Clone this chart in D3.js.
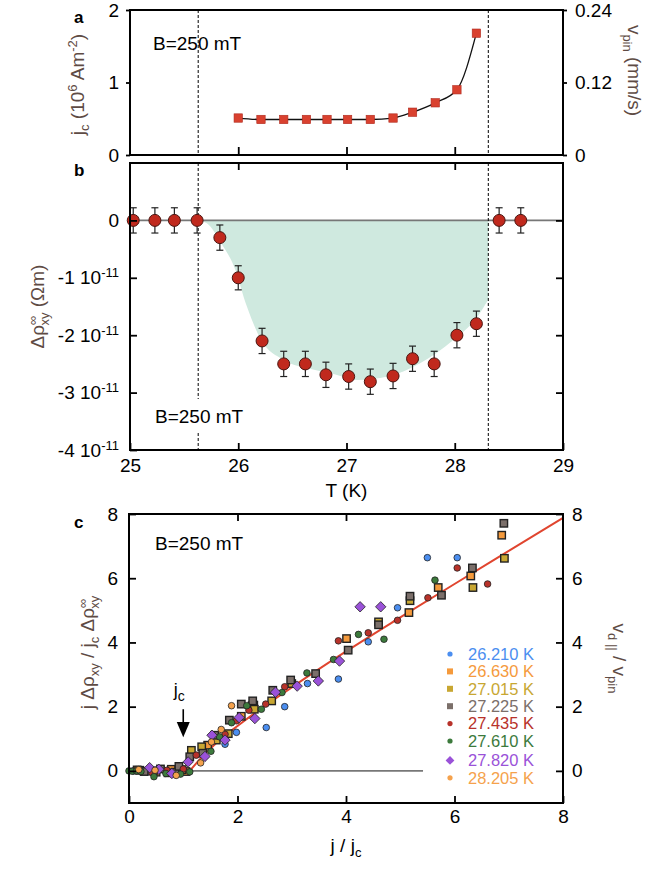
<!DOCTYPE html>
<html>
<head>
<meta charset="utf-8">
<script src="https://cdn.jsdelivr.net/npm/d3@7"></script>
<style>
  body { margin: 0; background: #fff; }
  svg { display: block; }
  text { font-family: "Liberation Sans", Arial, Helvetica, sans-serif; }
</style>
</head>
<body>
<svg width="650" height="869"></svg>
<script>
// panel a: critical current vs T
const tA = [26.0, 26.21, 26.42, 26.63, 26.82, 27.01, 27.22, 27.43, 27.61, 27.82, 28.02, 28.2];
const jcA = [0.51, 0.49, 0.49, 0.49, 0.49, 0.49, 0.49, 0.51, 0.59, 0.72, 0.90, 1.68];

// panel b: delta rho_xy (units of 1e-11 Ohm m)
const tB = [25.03, 25.23, 25.41, 25.62, 25.83, 26.0, 26.22, 26.42, 26.62, 26.81, 27.02, 27.22, 27.43, 27.61, 27.81, 28.02, 28.2, 28.41, 28.61];
const rhoB = [0, 0, 0, 0, -0.30, -1.0, -2.1, -2.5, -2.5, -2.69, -2.72, -2.81, -2.71, -2.41, -2.5, -2.0, -1.80, 0, 0];
const errB = [0.22, 0.22, 0.22, 0.22, 0.22, 0.21, 0.22, 0.22, 0.22, 0.22, 0.22, 0.22, 0.22, 0.22, 0.22, 0.22, 0.22, 0.22, 0.22];
const shadeT = [25.63, 25.71, 25.84, 25.96, 26.08, 26.21, 26.42, 26.65, 26.85, 27.10, 27.38, 27.68, 27.99, 28.21, 28.31];
const shadeV = [0, -0.05, -0.39, -0.80, -1.5, -2.08, -2.43, -2.58, -2.66, -2.78, -2.72, -2.49, -2.08, -1.68, -1.38];
const dashT = [25.63, 28.31];

// panel c: scaled Hall signal vs j/jc
const p26210 = [[0.08,0.0],[0.35,-0.03],[0.62,0.04],[0.9,-0.05],[1.77,0.83],[1.77,1.01],[1.98,1.20],[2.53,1.35],[2.87,2.0],[3.29,2.72],[3.86,2.86],[4.41,4.02],[4.95,5.08],[5.50,6.64],[6.05,6.64]];
const p26630 = [[0.2,0.02],[0.5,-0.04],[0.78,0.05],[1.05,-0.02],[1.45,0.80],[2.07,1.70],[2.30,2.05],[4.01,4.12],[5.16,4.93],[5.70,5.71],[6.30,6.07],[6.87,7.34]];
const p27015 = [[0.15,0.03],[0.45,0.0],[0.72,-0.06],[0.98,0.04],[1.15,0.64],[1.34,0.75],[1.61,0.96],[1.83,1.16],[2.27,2.03],[2.31,1.92],[2.63,2.18],[3.0,2.72],[4.60,4.64],[5.18,5.30],[6.34,5.71],[6.92,6.62]];
const p27225 = [[0.28,-0.02],[0.58,0.06],[0.85,-0.04],[0.92,0.14],[1.12,0.44],[1.36,0.55],[1.58,1.11],[1.85,1.58],[2.07,2.08],[2.28,2.18],[2.65,2.51],[2.98,2.83],[3.44,3.03],[4.04,3.76],[4.60,4.55],[5.18,5.44],[5.76,5.47],[6.33,6.32],[6.91,7.71]];
const p27435 = [[0.12,0.01],[0.42,-0.05],[0.7,0.02],[1.0,0.06],[1.24,0.49],[1.77,1.14],[1.98,1.56],[2.21,1.89],[2.52,2.08],[2.87,2.62],[3.86,4.05],[4.41,4.30],[4.95,4.69],[5.51,5.39],[6.05,6.32],[6.61,5.82]];
const p27610 = [[0.0,0.0],[0.06,-0.01],[0.14,0.0],[0.22,-0.02],[0.46,-0.18],[0.68,-0.08],[0.95,-0.1],[1.12,-0.03],[1.51,0.61],[1.67,1.06],[1.89,1.50],[2.17,2.03],[2.44,1.92],[2.82,2.44],[3.28,3.05],[3.77,3.47],[4.23,4.25],[4.70,4.10],[5.64,5.94]];
const p27820 = [[0.38,0.1],[0.55,0.05],[0.79,-0.08],[1.09,0.28],[1.40,0.45],[1.53,1.11],[1.77,0.96],[2.03,1.66],[2.32,1.63],[2.70,2.45],[3.10,2.64],[3.49,2.80],[3.88,3.42],[4.26,5.11],[4.64,5.11]];
const p28205 = [[0.18,0.04],[0.48,0.02],[0.87,-0.14],[1.32,0.25],[1.52,0.90],[1.70,1.29],[1.89,2.03]];
const fitX = [1.12, 1.3, 1.6, 2, 3, 4, 5, 6, 7, 8];
const fitY = [0, 0.35, 0.85, 1.4, 2.6, 3.72, 4.78, 5.82, 6.85, 7.88];

const seriesLabels = ["26.210 K", "26.630 K", "27.015 K", "27.225 K", "27.435 K", "27.610 K", "27.820 K", "28.205 K"];
const seriesColors = ["#4b8ef0", "#f59a3c", "#c8a732", "#7b6f6a", "#b8322a", "#3c7a3c", "#9a52d8", "#f5a24c"];
const seriesShapes = ["circle", "square", "square", "square", "circle", "circle", "diamond", "circle"];
const seriesPoints = [p26210, p26630, p27015, p27225, p27435, p27610, p27820, p28205];

const labelColor = "#5e4b44";
const svg = d3.select("svg");

const xT = d3.scaleLinear().domain([25, 29]).range([130, 563]);
const yA = d3.scaleLinear().domain([0, 2]).range([155, 10]);
const yAr = d3.scaleLinear().domain([0, 0.24]).range([155, 10]);
const yB = d3.scaleLinear().domain([-4, 1]).range([450, 163]);
const xC = d3.scaleLinear().domain([0, 8]).range([129, 563]);
const yC = d3.scaleLinear().domain([-1, 8]).range([803, 514]);

function rich(t, parts, big, small) {
  let off = 0;
  parts.forEach(p => {
    const target = p.sup ? -7 : p.sub ? 5 : 0;
    const ts = t.append("tspan").text(p.t)
      .attr("dy", target - off)
      .style("font-size", (p.sup || p.sub) ? small + "px" : big + "px");
    if (p.dx) ts.attr("dx", p.dx);
    off = target;
  });
}

function styleAxis(g) {
  g.select(".domain").remove();
  g.selectAll(".tick line").attr("stroke", "#000").attr("stroke-width", 1.8);
  g.selectAll(".tick text").style("font-size", "19px").attr("fill", "#000");
}

function frame(x0, y0, x1, y1) {
  svg.append("rect").attr("x", x0).attr("y", y0).attr("width", x1 - x0).attr("height", y1 - y0)
    .attr("fill", "none").attr("stroke", "#000").attr("stroke-width", 2);
}

function panelLabel(txt, x, y) {
  svg.append("text").attr("x", x).attr("y", y).text(txt)
    .style("font-size", "17px").style("font-weight", "bold");
}

// ---------- panel a ----------
dashT.forEach(t => {
  svg.append("line").attr("x1", xT(t)).attr("x2", xT(t)).attr("y1", yA(2)).attr("y2", yA(0))
    .attr("stroke", "#000").attr("stroke-width", 1).attr("stroke-dasharray", "3,2");
});

svg.append("path")
  .attr("d", d3.line().x((d, i) => xT(tA[i])).y(d => yA(d)).curve(d3.curveMonotoneX)(jcA))
  .attr("fill", "none").attr("stroke", "#111").attr("stroke-width", 1.3);

svg.selectAll(".sqA").data(jcA).join("rect")
  .attr("x", (d, i) => xT(tA[i]) - 4.2).attr("y", d => yA(d) - 4.2)
  .attr("width", 8.4).attr("height", 8.4)
  .attr("fill", "#d9412f").attr("stroke", "#b02a1e").attr("stroke-width", 0.6);

svg.append("g").attr("transform", `translate(0,${yA(0)})`)
  .call(d3.axisBottom(xT).tickValues([26, 27, 28]).tickSize(-8).tickFormat(""))
  .call(styleAxis);
svg.append("g").attr("transform", `translate(${xT(25)},0)`)
  .call(d3.axisLeft(yA).tickValues([0, 1, 2]).tickSize(4).tickPadding(7).tickFormat(d3.format("d")))
  .call(styleAxis);
svg.append("g").attr("transform", `translate(${xT(29)},0)`)
  .call(d3.axisRight(yAr).tickValues([0, 0.12, 0.24]).tickSize(4).tickPadding(8)
    .tickFormat(d => d === 0 ? "0" : d3.format(".2f")(d)))
  .call(styleAxis);
frame(xT(25), yA(2), xT(29), yA(0));

svg.append("text").attr("x", 153).attr("y", 50).text("B=250 mT").style("font-size", "19px");
panelLabel("a", 74, 23);

const labA = svg.append("text").attr("transform", `translate(84,${(yA(0) + yA(2)) / 2 + 2}) rotate(-90)`)
  .attr("text-anchor", "middle").attr("fill", labelColor);
rich(labA, [{t: "j"}, {t: "c", sub: true}, {t: " (10"}, {t: "6", sup: true}, {t: " Am"}, {t: "-2", sup: true}, {t: ")"}], 19, 13);

const labAr = svg.append("text").attr("transform", `translate(628,${(yA(0) + yA(2)) / 2 - 12}) rotate(90)`)
  .attr("text-anchor", "middle").attr("fill", labelColor);
rich(labAr, [{t: "v"}, {t: "pin", sub: true}, {t: " (mm/s)"}], 19, 13);

// ---------- panel b ----------
const shade = d3.area()
  .x((d, i) => xT(shadeT[i]))
  .y0(yB(0))
  .y1(d => yB(d))
  .curve(d3.curveMonotoneX);
svg.append("path").attr("d", shade(shadeV)).attr("fill", "#cfe9df");

svg.append("line").attr("x1", xT(25)).attr("x2", xT(29)).attr("y1", yB(0)).attr("y2", yB(0))
  .attr("stroke", "#777").attr("stroke-width", 1.6);

dashT.forEach(t => {
  svg.append("line").attr("x1", xT(t)).attr("x2", xT(t)).attr("y1", yB(1)).attr("y2", yB(-4))
    .attr("stroke", "#000").attr("stroke-width", 1).attr("stroke-dasharray", "3,2");
});

// white patch behind the field label in panel b
svg.append("rect").attr("x", 150).attr("y", 399).attr("width", 102).attr("height", 34).attr("fill", "#fff");
svg.append("text").attr("x", 155).attr("y", 423).text("B=250 mT").style("font-size", "19px");

const eb = svg.append("g").attr("stroke", "#222").attr("stroke-width", 1.2);
rhoB.forEach((v, i) => {
  const x = xT(tB[i]);
  eb.append("line").attr("x1", x).attr("x2", x).attr("y1", yB(v + errB[i])).attr("y2", yB(v - errB[i]));
  eb.append("line").attr("x1", x - 3.5).attr("x2", x + 3.5).attr("y1", yB(v + errB[i])).attr("y2", yB(v + errB[i]));
  eb.append("line").attr("x1", x - 3.5).attr("x2", x + 3.5).attr("y1", yB(v - errB[i])).attr("y2", yB(v - errB[i]));
});
svg.selectAll(".dotB").data(rhoB).join("circle")
  .attr("cx", (d, i) => xT(tB[i])).attr("cy", d => yB(d)).attr("r", 6)
  .attr("fill", "#c0291d").attr("stroke", "#4a1510").attr("stroke-width", 1);

svg.append("g").attr("transform", `translate(0,${yB(-4)})`)
  .call(d3.axisBottom(xT).tickValues([25, 26, 27, 28, 29]).tickSize(-7).tickPadding(9).tickFormat(d3.format("d")))
  .call(styleAxis);
svg.append("g").attr("transform", `translate(0,${yB(1)})`)
  .call(d3.axisTop(xT).tickValues([26, 27, 28]).tickSize(-7).tickFormat(""))
  .call(styleAxis);
const axB = svg.append("g").attr("transform", `translate(${xT(25)},0)`)
  .call(d3.axisLeft(yB).tickValues([0, -1, -2, -3, -4]).tickSize(-7).tickPadding(11))
  .call(styleAxis);
axB.selectAll(".tick text").each(function(d) {
  const t = d3.select(this).text("");
  if (d === 0) { t.text("0"); return; }
  t.append("tspan").text(d + " 10");
  t.append("tspan").text("-11").attr("dy", -7).style("font-size", "13px");
});
svg.append("g").attr("transform", `translate(${xT(29)},0)`)
  .call(d3.axisRight(yB).tickValues([0, -1, -2, -3]).tickSize(-7).tickFormat(""))
  .call(styleAxis);
frame(xT(25), yB(1), xT(29), yB(-4));

svg.append("text").attr("x", xT(27)).attr("y", 497).attr("text-anchor", "middle")
  .text("T (K)").style("font-size", "19px");
panelLabel("b", 74, 176);

const labB = svg.append("text").attr("transform", `translate(44,${(yB(1) + yB(-4)) / 2}) rotate(-90)`)
  .attr("text-anchor", "middle").attr("fill", labelColor);
rich(labB, [{t: "Δρ"}, {t: "∞", sup: true}, {t: "xy", sub: true, dx: -10}, {t: " (Ωm)"}], 19, 13);

// ---------- panel c ----------
svg.append("line").attr("x1", xC(0)).attr("x2", xC(5.42)).attr("y1", yC(0)).attr("y2", yC(0))
  .attr("stroke", "#777").attr("stroke-width", 1.6);

svg.append("path")
  .attr("d", d3.line().x((d, i) => xC(fitX[i])).y(d => yC(d)).curve(d3.curveMonotoneX)(fitY))
  .attr("fill", "none").attr("stroke", "#e0452f").attr("stroke-width", 2);

function marker(g, shape, x, y, color, big) {
  if (shape === "circle") {
    g.append("circle").attr("cx", x).attr("cy", y).attr("r", big ? 3.3 : 2.6)
      .attr("fill", color).attr("stroke", big ? "#222" : "none").attr("stroke-width", 0.8);
  } else if (shape === "square") {
    const s = big ? 7.4 : 6;
    g.append("rect").attr("x", x - s / 2).attr("y", y - s / 2).attr("width", s).attr("height", s)
      .attr("fill", color).attr("stroke", big ? "#222" : "none").attr("stroke-width", 1.4);
  } else {
    const s = big ? 5.2 : 4.4;
    g.append("path").attr("d", `M${x},${y - s}L${x + s},${y}L${x},${y + s}L${x - s},${y}Z`)
      .attr("fill", color).attr("stroke", big ? "#222" : "none").attr("stroke-width", 0.8);
  }
}

const ptsC = svg.append("g");
seriesPoints.forEach((pts, k) => {
  pts.forEach(p => marker(ptsC, seriesShapes[k], xC(p[0]), yC(p[1]), seriesColors[k], true));
});

// j_c arrow
const arrowX = xC(1);
svg.append("line").attr("x1", arrowX).attr("x2", arrowX).attr("y1", yC(1.92)).attr("y2", yC(1.4))
  .attr("stroke", "#000").attr("stroke-width", 1.6);
svg.append("path")
  .attr("d", `M${arrowX - 6.5},${yC(1.52)}L${arrowX + 6.5},${yC(1.52)}L${arrowX},${yC(1.05)}Z`)
  .attr("fill", "#000");
const jcLab = svg.append("text").attr("x", arrowX - 4).attr("y", yC(2.32)).attr("text-anchor", "middle");
rich(jcLab, [{t: "j"}, {t: "c", sub: true}], 18, 14);

svg.append("g").attr("transform", `translate(0,${yC(-1)})`)
  .call(d3.axisBottom(xC).tickValues([0, 2, 4, 6, 8]).tickSize(-7).tickPadding(7).tickFormat(d3.format("d")))
  .call(styleAxis);
svg.append("g").attr("transform", `translate(0,${yC(8)})`)
  .call(d3.axisTop(xC).tickValues([2, 4, 6]).tickSize(-7).tickFormat(""))
  .call(styleAxis);
svg.append("g").attr("transform", `translate(${xC(0)},0)`)
  .call(d3.axisLeft(yC).tickValues([0, 2, 4, 6, 8]).tickSize(-7).tickPadding(11).tickFormat(d3.format("d")))
  .call(styleAxis);
svg.append("g").attr("transform", `translate(${xC(8)},0)`)
  .call(d3.axisRight(yC).tickValues([0, 2, 4, 6, 8]).tickSize(-7).tickPadding(9).tickFormat(d3.format("d")))
  .call(styleAxis);
frame(xC(0), yC(8), xC(8), yC(-1));

svg.append("text").attr("x", 155).attr("y", 550).text("B=250 mT").style("font-size", "19px");
panelLabel("c", 74, 528);

const xlabC = svg.append("text").attr("x", xC(4)).attr("y", 852).attr("text-anchor", "middle");
rich(xlabC, [{t: "j / j"}, {t: "c", sub: true}], 19, 13);

const labC = svg.append("text").attr("transform", `translate(94,${(yC(8) + yC(-1)) / 2 - 6}) rotate(-90)`)
  .attr("text-anchor", "middle").attr("fill", labelColor);
rich(labC, [{t: "j Δρ"}, {t: "xy", sub: true}, {t: " / j"}, {t: "c", sub: true}, {t: " Δρ"}, {t: "∞", sup: true}, {t: "xy", sub: true, dx: -10}], 19, 13);

const labCr = svg.append("text").attr("transform", `translate(613,${(yC(8) + yC(-1)) / 2}) rotate(90)`)
  .attr("text-anchor", "middle").attr("fill", labelColor);
rich(labCr, [{t: "v"}, {t: "d ||", sub: true}, {t: " / v"}, {t: "pin", sub: true}], 19, 13);

// legend
const leg = svg.append("g");
seriesLabels.forEach((lab, k) => {
  const y = 654 + k * 17.4 + (k >= 6 ? 2 : 0);
  marker(leg, seriesShapes[k], 450, y, seriesColors[k], false);
  leg.append("text").attr("x", 468).attr("y", y).attr("dy", "0.35em").text(lab)
    .attr("fill", seriesColors[k]).style("font-size", "16.5px");
});
</script>
</body>
</html>
